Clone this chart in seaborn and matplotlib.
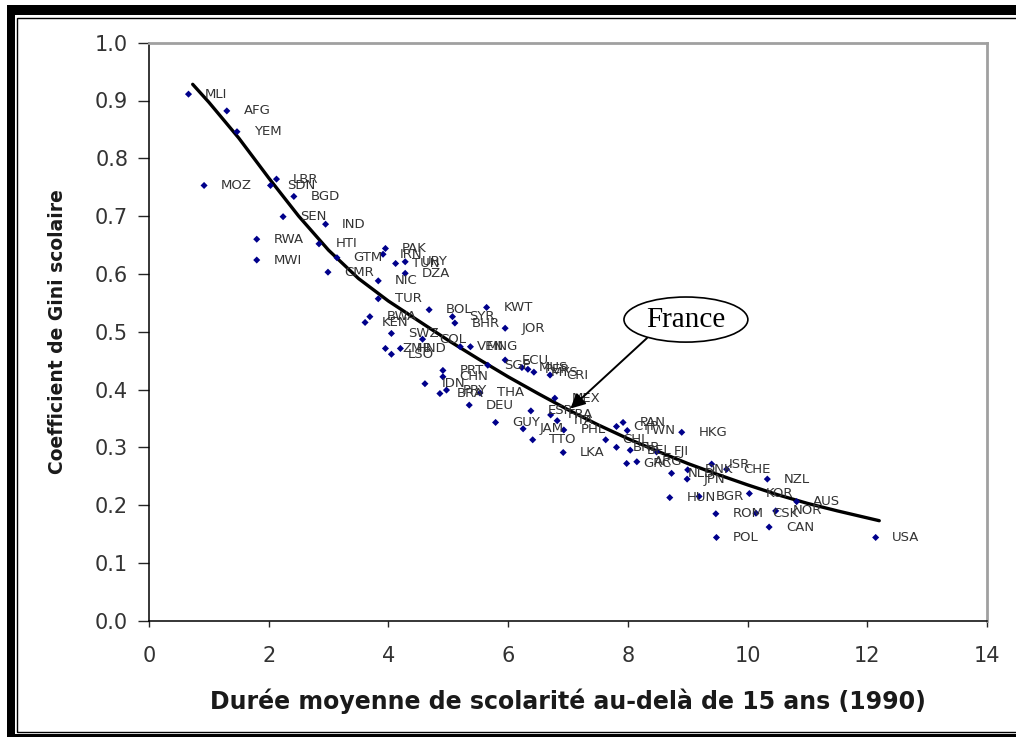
"""
Gini scolaire vs duree moyenne de scolarite (1990)
"""
import matplotlib
matplotlib.use('Agg')
import matplotlib.pyplot as plt
from matplotlib.patches import Ellipse, Rectangle
import seaborn as sns
import pandas as pd
import numpy as np

sns.set_style('ticks')
plt.rcParams['font.family'] = ['DejaVu Sans']

#%% data
countries = ['MLI', 'AFG', 'YEM', 'MOZ', 'LBR', 'SDN', 'BGD', 'SEN', 'IND', 'RWA',
             'HTI', 'MWI', 'GTM', 'CMR', 'PAK', 'IRN', 'TUN', 'URY', 'DZA', 'NIC',
             'TUR', 'BOL', 'BWA', 'KEN', 'SWZ', 'COL', 'ZMB', 'HND', 'LSO', 'KWT',
             'SYR', 'BHR', 'JOR', 'VEN', 'MNG', 'ECU', 'SGP', 'MUS', 'MYS', 'PER',
             'CRI', 'PRT', 'CHN', 'IDN', 'PRY', 'BRA', 'THA', 'DEU', 'GUY', 'JAM',
             'TTO', 'LKA', 'MEX', 'ESP', 'FRA', 'ITA', 'PHL', 'CHL', 'CYP', 'PAN',
             'TWN', 'HKG', 'BRB', 'BEL', 'FJI', 'GRC', 'ARG', 'NLD', 'DNK', 'JPN',
             'ISR', 'CHE', 'NZL', 'HUN', 'BGR', 'KOR', 'AUS', 'NOR', 'ROM', 'CSK',
             'CAN', 'POL', 'USA']
duree = [0.66, 1.30, 1.47, 0.92, 2.13, 2.03, 2.42, 2.24, 2.95, 1.80,
         2.84, 1.80, 3.14, 2.99, 3.95, 3.91, 4.12, 4.28, 4.28, 3.83,
         3.83, 4.68, 3.69, 3.61, 4.05, 4.57, 3.95, 4.20, 4.05, 5.64,
         5.07, 5.11, 5.95, 5.20, 5.37, 5.95, 5.66, 6.23, 6.43, 6.33,
         6.70, 4.91, 4.91, 4.61, 4.97, 4.86, 5.53, 5.35, 5.79, 6.25,
         6.41, 6.92, 6.78, 6.38, 6.71, 6.82, 6.93, 7.63, 7.81, 7.92,
         7.99, 8.90, 7.81, 8.04, 8.48, 7.98, 8.15, 8.73, 9.00, 8.99,
         9.40, 9.65, 10.33, 8.70, 9.19, 10.03, 10.82, 10.47, 9.47, 10.14,
         10.36, 9.48, 12.14]
gini = [0.911, 0.882, 0.846, 0.753, 0.764, 0.753, 0.734, 0.699, 0.686, 0.660,
        0.652, 0.624, 0.628, 0.603, 0.644, 0.634, 0.618, 0.621, 0.601, 0.588,
        0.557, 0.538, 0.526, 0.516, 0.497, 0.487, 0.471, 0.471, 0.461, 0.542,
        0.526, 0.515, 0.506, 0.474, 0.474, 0.451, 0.442, 0.438, 0.430, 0.435,
        0.425, 0.433, 0.422, 0.410, 0.399, 0.393, 0.394, 0.373, 0.343, 0.332,
        0.313, 0.291, 0.385, 0.363, 0.356, 0.346, 0.330, 0.313, 0.336, 0.343,
        0.329, 0.326, 0.300, 0.295, 0.292, 0.272, 0.275, 0.255, 0.261, 0.245,
        0.271, 0.262, 0.245, 0.213, 0.215, 0.220, 0.206, 0.190, 0.185, 0.186,
        0.162, 0.144, 0.144]

# fitted curve
fit_x = [0.73, 1.0, 1.5, 2.0, 2.5, 3.0, 3.5, 4.0, 4.5, 5.0, 5.5, 6.0,
         6.5, 7.0, 7.5, 8.0, 8.5, 9.0, 9.5, 10.0, 10.5, 11.0, 11.5, 12.2]
fit_y = [0.928, 0.897, 0.835, 0.766, 0.700, 0.641, 0.592, 0.553, 0.519, 0.485, 0.453, 0.422,
         0.393, 0.365, 0.339, 0.315, 0.293, 0.272, 0.253, 0.235, 0.218, 0.203, 0.190, 0.173]

xticks = [0, 2, 4, 6, 8, 10, 12, 14]
yticks = [0.0, 0.1, 0.2, 0.3, 0.4, 0.5, 0.6, 0.7, 0.8, 0.9, 1.0]

df = pd.DataFrame({'pays': countries, 'duree': duree, 'gini': gini})
fit = pd.DataFrame({'duree': fit_x, 'gini': fit_y})

#%% plot
W, H = 1016, 737
fig = plt.figure(figsize=(W / 100, H / 100), dpi=100)
fig.patch.set_facecolor('white')
ax = fig.add_axes([149 / W, 1 - 620.7 / H, 838 / W, 578 / H])

sns.lineplot(data=fit, x='duree', y='gini', sort=False, color='black',
             lw=2.4, ax=ax, zorder=2)
sns.scatterplot(data=df, x='duree', y='gini', marker='D', s=13,
                color='#00008b', edgecolor='none', ax=ax, zorder=3)
for c, xx, yy in zip(df.pays, df.duree, df.gini):
    ax.annotate(c, (xx, yy), xytext=(12, 0), textcoords='offset points',
                va='center', ha='left', fontsize=9.5, color='#333333', zorder=4)

# France callout
ax.add_patch(Ellipse((8.97, 0.521), 2.07, 0.078, facecolor='white',
                     edgecolor='black', lw=1.2, zorder=6))
ax.text(8.97, 0.521, 'France', ha='center', va='center', fontsize=21,
        family='Liberation Serif', color='black', zorder=7)
ax.annotate('', xy=(7.04, 0.367), xytext=(8.32, 0.489),
            arrowprops=dict(arrowstyle='-|>', color='black', lw=1.4,
                            mutation_scale=22, shrinkA=0, shrinkB=0), zorder=6)

ax.set(xlim=(0, 14), ylim=(0, 1.0), xticks=xticks, yticks=yticks)
ax.set_yticklabels(['%.1f' % v for v in yticks])
ax.tick_params(axis='y', length=8, width=1, pad=7, labelsize=15, labelcolor='#333333')
ax.tick_params(axis='x', length=4.5, width=1, pad=14, labelsize=15, labelcolor='#333333')
for s in ['left', 'bottom']:
    ax.spines[s].set_color('black')
    ax.spines[s].set_linewidth(1.1)
for s in ['top', 'right']:
    ax.spines[s].set_visible(True)
    ax.spines[s].set_color('#a0a0a0')
    ax.spines[s].set_linewidth(2)

ax.set_xlabel('Durée moyenne de scolarité au-delà de 15 ans (1990)', fontsize=17,
              fontweight='bold', color='#1a1a1a')
ax.set_ylabel('Coefficient de Gini scolaire', fontsize=13.5, fontweight='bold',
              color='#1a1a1a')
ax.xaxis.set_label_coords(0.5, -0.118)
ax.yaxis.set_label_coords(-0.098, 0.5)

# double frame round the picture
fig.add_artist(Rectangle((7 / W, 0), 8 / W, 1 - 5 / H, transform=fig.transFigure,
                         facecolor='black', edgecolor='none'))
fig.add_artist(Rectangle((7 / W, 1 - 15 / H), 1 - 7 / W, 10 / H, transform=fig.transFigure,
                         facecolor='black', edgecolor='none'))
fig.add_artist(Rectangle((7 / W, 0), 1 - 7 / W, 3 / H, transform=fig.transFigure,
                         facecolor='black', edgecolor='none'))
fig.add_artist(Rectangle((16.5 / W, 1 - 731.5 / H), 1.1, (731.5 - 17.5) / H,
                         transform=fig.transFigure, fill=False, edgecolor='black', lw=1.0))

fig.savefig('out.png', dpi=100, facecolor='white')
